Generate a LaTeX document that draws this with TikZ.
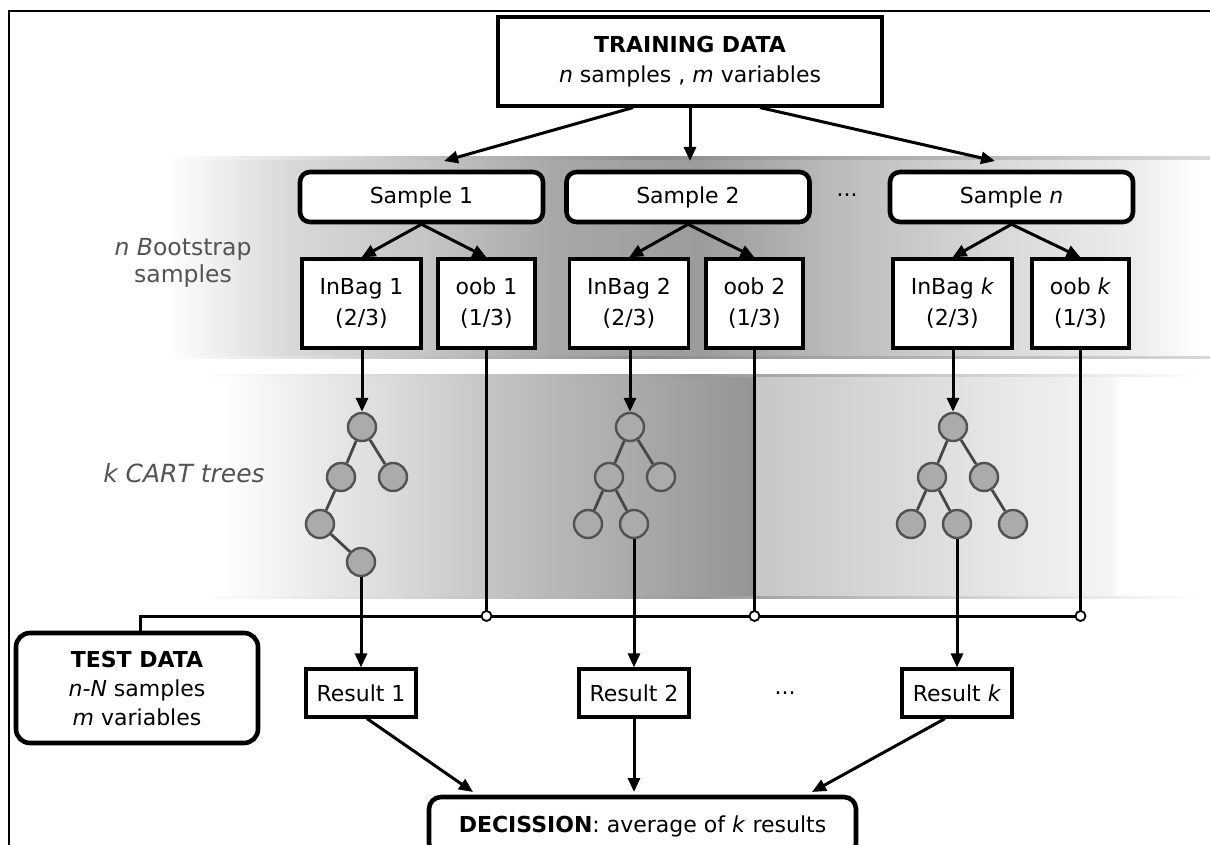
\documentclass[tikz,border=0pt]{standalone}
\usepackage{fontspec}
\setmainfont{DejaVu Sans}
\usetikzlibrary{arrows.meta}
\begin{document}
\begin{tikzpicture}[x=1pt,y=-1pt,
  arr/.style={line width=3pt, -{Triangle[length=14pt,width=12pt]}},
  wire/.style={line width=3pt},
  sqbox/.style={draw, line width=3.2pt, fill=white, inner sep=0pt, align=center, font=\fontsize{22}{31}\selectfont},
  rbox/.style={draw, line width=4.6pt, fill=white, rounded corners=10pt, inner sep=0pt, align=center, font=\fontsize{22}{29}\selectfont},
  leaf/.style={circle, draw=black!68, line width=2.4pt, fill=black!33, minimum size=28pt, inner sep=0pt},
  tedge/.style={draw=black!72, line width=2.8pt},
  junct/.style={circle, draw, line width=1.8pt, fill=white, minimum size=10pt, inner sep=0pt},
  lbl/.style={text=black!67, align=center, font=\fontsize{23.5}{27}\selectfont},
  dots/.style={font=\fontsize{22}{26}\selectfont}
]
\useasboundingbox (0,0) rectangle (1210,845);
\clip (0,0) rectangle (1210,845);
\fill[white] (0,0) rectangle (1210,845);
% ---- bands
\foreach \xa/\xb/\ca/\cb in {165/290/0/15, 290/430/15/23, 430/550/23/34, 550/700/34/39, 700/830/39/27, 830/1000/27/15, 1000/1140/15/7, 1140/1195/7/0}
  \shade[left color=black!\ca, right color=black!\cb] (\xa-0.6,158) rectangle (\xb+0.6,357);
\foreach \xa/\xb/\ca/\cb in {220/485/0/22, 485/757/23/42, 757/1110/22/4, 1110/1120/4/0}
  \shade[left color=black!\ca, right color=black!\cb] (\xa-0.3,375) rectangle (\xb+0.3,597);
\foreach \yy in {157,356}{
  \shade[left color=white, right color=black!45] (165,\yy) rectangle (650,\yy+2.2);
  \shade[left color=black!45, right color=black!15] (650,\yy) rectangle (1210,\yy+2.2);}
\foreach \yy in {374,596}{
  \shade[left color=white, right color=black!40] (200,\yy) rectangle (700,\yy+2);
  \shade[left color=black!40, right color=white] (700,\yy) rectangle (1200,\yy+2);}
% ---- frame
\draw[line width=2.6pt] (9,900) -- (9,11) -- (1260,11);
% ---- training data
\node[sqbox, minimum width=384pt, minimum height=89pt, font=\fontsize{22}{30}\selectfont] (train) at (690,61.5)
  {\textbf{TRAINING DATA}\\\textit{n} samples , \textit{m} variables};
% ---- samples
\node[rbox, minimum width=243pt, minimum height=50pt] (s1) at (421.5,197) {Sample 1};
\node[rbox, minimum width=243pt, minimum height=50pt] (s2) at (688,197) {Sample 2};
\node[rbox, minimum width=243pt, minimum height=50pt] (sn) at (1011.5,197) {Sample \textit{n}};
\node[dots] (dt1) at (847,195) {...};
\coordinate (a1) at (444,161);
\coordinate (a2) at (690,161);
\coordinate (a3) at (995,161);
\draw[arr] ([xshift=-57pt]train.south) -- (a1);
\draw[arr] (train.south) -- (a2);
\draw[arr] ([xshift=70pt]train.south) -- (a3);
% ---- bags
\node[sqbox, minimum width=119pt, minimum height=89pt] (ib1) at (361.5,303.5) {InBag 1\\(2/3)};
\node[sqbox, minimum width=97pt, minimum height=89pt] (oob1) at (486.5,303.5) {oob 1\\(1/3)};
\node[sqbox, minimum width=119pt, minimum height=89pt] (ib2) at (629,303.5) {InBag 2\\(2/3)};
\node[sqbox, minimum width=97pt, minimum height=89pt] (oob2) at (754.5,303.5) {oob 2\\(1/3)};
\node[sqbox, minimum width=119pt, minimum height=89pt] (ibk) at (952.5,303.5) {InBag \textit{k}\\(2/3)};
\node[sqbox, minimum width=97pt, minimum height=89pt] (oobk) at (1080.5,303.5) {oob \textit{k}\\(1/3)};
\foreach \s/\a/\b in {s1/ib1/oob1, s2/ib2/oob2, sn/ibk/oobk}{
  \draw[arr] (\s.south) -- (\a.north);
  \draw[arr] (\s.south) -- (\b.north);}
% ---- labels
\node[lbl] (lb1) at (183,263) {\textit{n B}ootstrap\\samples};
\node[lbl, font=\fontsize{25}{28}\selectfont] (lb2) at (184,473) {\textit{k CART trees}};
% ---- trees
\node[leaf] (t1r) at (362,427) {};
\node[leaf] (t1a) at (341,477) {};
\node[leaf] (t1b) at (393,477) {};
\node[leaf] (t1c) at (320,524) {};
\node[leaf] (t1d) at (361,562) {};
\node[leaf] (t2r) at (630,427) {};
\node[leaf] (t2a) at (609,477) {};
\node[leaf] (t2b) at (661,477) {};
\node[leaf] (t2c) at (588,524) {};
\node[leaf] (t2d) at (634,524) {};
\node[leaf] (tkr) at (953,427) {};
\node[leaf] (tka) at (932,477) {};
\node[leaf] (tkb) at (984,477) {};
\node[leaf] (tkc) at (911,524) {};
\node[leaf] (tkd) at (957,524) {};
\node[leaf] (tke) at (1013,524) {};
\foreach \p/\q in {t1r/t1a, t1r/t1b, t1a/t1c, t1c/t1d, t2r/t2a, t2r/t2b, t2a/t2c, t2a/t2d, tkr/tka, tkr/tkb, tka/tkc, tka/tkd, tkb/tke}
  \draw[tedge] (\p) -- (\q);
\draw[arr] (t1r.north |- ib1.south) -- (t1r.north);
\draw[arr] (t2r.north |- ib2.south) -- (t2r.north);
\draw[arr] (tkr.north |- ibk.south) -- (tkr.north);
% ---- results
\node[sqbox, minimum width=110pt, minimum height=48pt] (res1) at (361,693) {Result 1};
\node[sqbox, minimum width=110pt, minimum height=48pt] (res2) at (634,693) {Result 2};
\node[sqbox, minimum width=110pt, minimum height=48pt] (resk) at (957,693) {Result \textit{k}};
\node[dots] (dt2) at (785,693) {...};
% ---- test data
\node[rbox, rounded corners=14pt, minimum width=242pt, minimum height=110pt] (test) at (137,688)
  {\textbf{TEST DATA}\\\textit{n-N} samples\\\textit{m} variables};
% ---- oob wires
\coordinate (tc) at (140,616);
\coordinate (j1) at (486.5,616);
\coordinate (j2) at (754.5,616);
\coordinate (jk) at (1080.5,616);
\draw[wire] (tc |- test.north) -- (tc) -- (jk);
\draw[wire] (oob1.south) -- (j1);
\draw[wire] (oob2.south) -- (j2);
\draw[wire] (oobk.south) -- (jk);
\node[junct] (c1) at (j1) {};
\node[junct] (c2) at (j2) {};
\node[junct] (ck) at (jk) {};
\draw[arr] (t1d.south) -- (res1.north);
\draw[arr] (t2d.south) -- (res2.north);
\draw[arr] (tkd.south) -- (resk.north);
% ---- decision
\node[rbox, rounded corners=12pt, minimum width=427pt, minimum height=58pt] (dec) at (642.5,826)
  {\textbf{DECISSION}: average of \textit{k} results};
\coordinate (d1) at (473,792);
\coordinate (d2) at (634,792);
\coordinate (d3) at (812,792);
\draw[arr] ([xshift=6pt]res1.south) -- (d1);
\draw[arr] (res2.south) -- (d2);
\draw[arr] ([xshift=-12pt]resk.south) -- (d3);
\end{tikzpicture}
\end{document}
